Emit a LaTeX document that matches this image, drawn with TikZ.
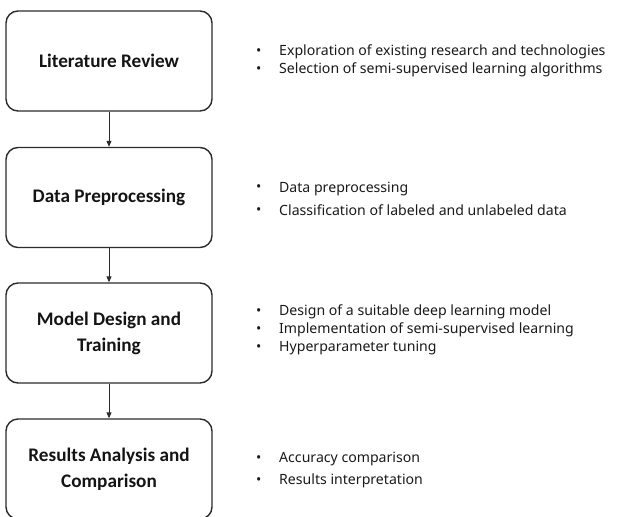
\documentclass[tikz,border=0pt]{standalone}
\usepackage{fontspec}
\setmainfont{Noto Sans}
\newfontfamily\titlefont{Carlito}
\usetikzlibrary{arrows.meta}
\definecolor{edge}{HTML}{2B2B2B}
\tikzset{
  stage/.style={draw=edge, line width=1.4pt, rounded corners=12pt,
    minimum width=206pt, minimum height=100pt, align=center,
    font=\titlefont\bfseries\fontsize{19.2}{26}\selectfont, text=black!92},
  flow/.style={draw=edge, line width=1pt, -{Triangle[length=6pt,width=5pt]}},
  notes/.style={anchor=west, align=left, inner sep=0pt, text=black!90},
}
\newcommand{\bul}{\makebox[23pt][l]{\raisebox{0.05ex}{\textbullet}}}
\begin{document}
\begin{tikzpicture}[x=1pt,y=-1pt]
\useasboundingbox (0,0) rectangle (620,516);
% process stages
\node[stage] (lit) at (109,61) {Literature Review};
\node[stage] (pre) at (109,197.5) {Data Preprocessing};
\node[stage] (mod) at (109,333) {Model Design and\\Training};
\node[stage] (res) at (109,469) {Results Analysis and\\Comparison};
% arrows between stages
\draw[flow] (lit) -- (pre);
\draw[flow] (pre) -- (mod);
\draw[flow] (mod) -- (res);
% task lists
\node[notes, font=\fontsize{14.1}{18}\selectfont] (litn) at (256,61)
  {\bul Exploration of existing research and technologies\\
   \bul Selection of semi-supervised learning algorithms};
\node[notes, font=\fontsize{14.1}{23}\selectfont] (pren) at (256,198.5)
  {\bul Data preprocessing\\
   \bul Classification of labeled and unlabeled data};
\node[notes, font=\fontsize{14.1}{18}\selectfont] (modn) at (256,330)
  {\bul Design of a suitable deep learning model\\
   \bul Implementation of semi-supervised learning\\
   \bul Hyperparameter tuning};
\node[notes, font=\fontsize{14.1}{22}\selectfont] (resn) at (256,470)
  {\bul Accuracy comparison\\
   \bul Results interpretation};
\end{tikzpicture}
\end{document}
